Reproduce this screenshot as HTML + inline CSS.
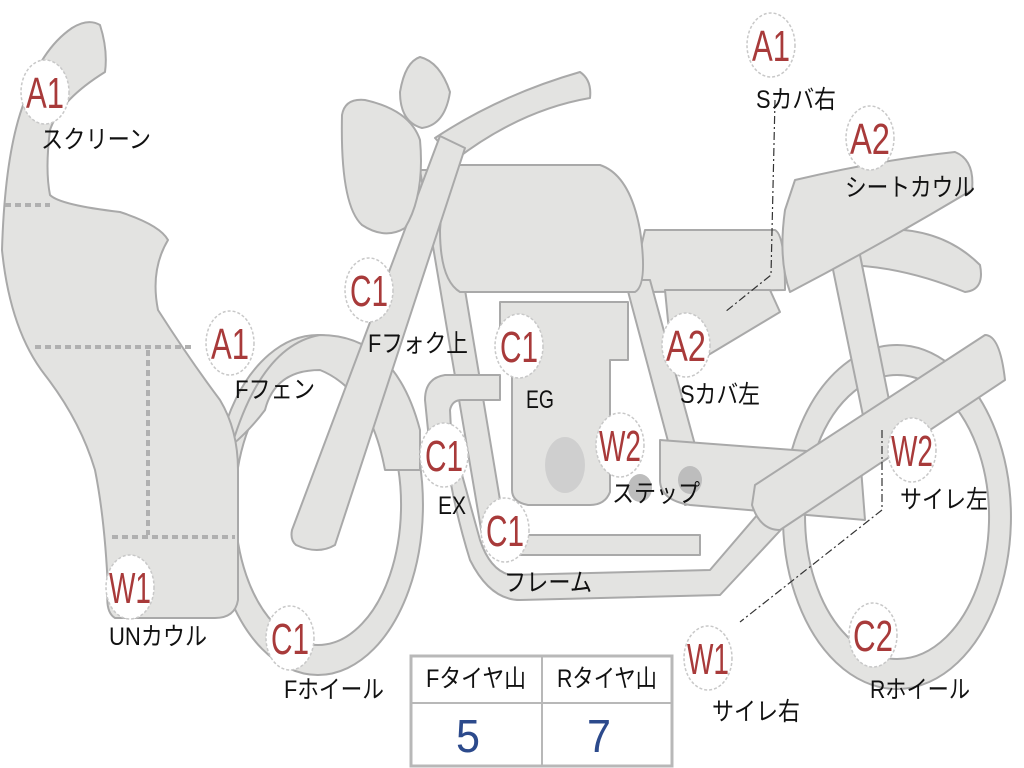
<!DOCTYPE html>
<html><head><meta charset="utf-8"><style>
html,body{margin:0;padding:0;background:#fff;}
svg{display:block;}
.s{fill:#e3e3e1;stroke:#a9a9a9;stroke-width:2;stroke-linejoin:round;}
.lb{fill:#fff;stroke:#c8c8c8;stroke-width:1.5;stroke-dasharray:3 2;}
.cd{font-family:"Liberation Sans",sans-serif;font-size:44px;fill:#a83a3a;text-anchor:middle;}
.tx{font-family:"Liberation Sans","Noto Sans CJK JP",sans-serif;font-size:25px;fill:#111;text-anchor:middle;}
</style></head><body>
<svg width="1024" height="768" viewBox="0 0 1024 768" xmlns="http://www.w3.org/2000/svg">
<!-- rear wheel -->
<path class="s" fill-rule="evenodd" d="M897 345 A114 172 0 1 1 896.9 345 Z M897 375 A92 142 0 1 0 897.1 375 Z"/>
<!-- front wheel -->
<path class="s" fill-rule="evenodd" d="M318 335 A105 170 0 1 1 317.9 335 Z M318 365 A83 140 0 1 0 318.1 365 Z"/>
<!-- front fender -->
<path class="s" d="M232 445 Q262 345 320 335 Q395 335 420 430 L420 470 L385 470 Q370 390 320 370 Q275 370 265 410 Q250 430 232 445 Z"/>
<!-- rear tail -->
<path class="s" d="M840 235 Q930 215 980 265 Q985 290 965 292 Q900 265 840 265 Z"/>
<!-- rear shock / frame -->
<path class="s" d="M830 255 L860 255 L895 430 L868 440 Z"/>
<!-- seat -->
<path class="s" d="M645 230 L775 230 Q785 235 785 290 L650 292 Q638 290 638 260 Z"/>
<!-- seat cowl -->
<path class="s" d="M795 180 Q880 160 955 152 Q975 160 972 190 Q880 245 790 292 Q778 260 785 210 Z"/>
<!-- side cover -->
<path class="s" d="M665 290 L770 290 L780 312 L700 360 L672 362 Z"/>
<!-- frame lower -->
<path class="s" d="M440 395 Q445 480 470 560 Q490 600 520 600 L720 595 L790 520 L770 500 L710 570 L510 575 Q490 570 480 540 Z"/>
<path class="s" d="M500 535 L700 535 L700 555 L500 555 Z"/>
<!-- frame down tubes -->
<path class="s" d="M420 170 L445 170 L505 530 L482 535 Z"/>
<path class="s" d="M625 280 L650 280 L710 500 L685 505 Z"/>
<!-- swingarm -->
<path class="s" d="M660 440 L860 455 L865 520 L690 505 Q660 500 660 480 Z"/>
<!-- engine -->
<path class="s" d="M500 302 L628 302 L628 360 L610 360 L610 492 Q605 505 590 505 L528 505 Q512 502 512 490 L512 360 L500 360 Z"/>
<ellipse cx="565" cy="465" rx="20" ry="28" fill="#cfcfcf"/>
<!-- exhaust -->
<path class="s" d="M500 375 L445 375 Q425 378 425 400 L430 450 L452 450 L450 410 Q452 400 462 400 L500 400 Z"/>
<!-- steps -->
<ellipse cx="640" cy="488" rx="12" ry="14" fill="#bdbdbd"/>
<ellipse cx="690" cy="480" rx="12" ry="14" fill="#bdbdbd"/>
<!-- muffler -->
<path class="s" d="M755 485 L985 335 Q1000 335 1005 380 L780 530 Q760 530 752 505 Z"/>
<!-- tank -->
<path class="s" d="M445 165 L600 165 Q630 175 640 230 Q648 285 635 292 L460 292 Q440 280 440 230 Z"/>
<!-- handlebar -->
<path class="s" d="M435 138 Q500 95 580 72 Q592 80 590 98 Q520 110 455 160 Z"/>
<!-- fork -->
<path class="s" d="M440 136 L465 148 L335 545 Q318 555 296 545 Q290 540 292 530 Z"/>
<!-- fork top / headlight -->
<path class="s" d="M400 92 Q405 62 420 57 Q440 62 450 92 Q445 125 422 128 Q400 122 400 92 Z"/>
<path class="s" d="M342 115 Q345 98 365 100 Q410 110 420 140 Q425 195 405 228 Q385 240 362 225 Q340 205 342 115 Z"/>
<!-- front fairing -->
<path class="s" d="M72 28 Q88 18 100 25 Q108 50 105 72 Q60 100 50 130 Q45 170 50 195 Q60 205 120 212 Q160 225 168 240 Q150 270 158 310 Q190 360 220 400 Q238 430 238 470 L238 600 Q235 618 215 618 L115 618 Q105 612 108 590 Q105 520 95 470 Q80 420 45 375 Q10 330 2 250 Q5 150 25 100 Q40 50 72 28 Z"/>
<g stroke="#b0b0b0" stroke-width="4" stroke-dasharray="6 4" fill="none">
<path d="M5 205 L50 205"/><path d="M35 347 L192 347"/><path d="M148 350 L148 535"/><path d="M112 537 L235 537"/>
</g>
<!-- leader lines -->
<g stroke="#333" stroke-width="1.2" fill="none" stroke-dasharray="8 3 2 3">
<path d="M775 100 L771 275 L725 312"/><path d="M882 430 L882 510 L740 622"/>
</g>
<!-- labels -->
<g>
<ellipse class="lb" cx="45" cy="92" rx="24" ry="32"/><text class="cd" x="45" y="108" textLength="38" lengthAdjust="spacingAndGlyphs">A1</text>
<ellipse class="lb" cx="230" cy="343" rx="24" ry="32"/><text class="cd" x="230" y="359" textLength="38" lengthAdjust="spacingAndGlyphs">A1</text>
<ellipse class="lb" cx="369" cy="290" rx="24" ry="32"/><text class="cd" x="369" y="306" textLength="38" lengthAdjust="spacingAndGlyphs">C1</text>
<ellipse class="lb" cx="519" cy="346" rx="24" ry="32"/><text class="cd" x="519" y="362" textLength="38" lengthAdjust="spacingAndGlyphs">C1</text>
<ellipse class="lb" cx="686" cy="345" rx="24" ry="32"/><text class="cd" x="686" y="361" textLength="40" lengthAdjust="spacingAndGlyphs">A2</text>
<ellipse class="lb" cx="444" cy="455" rx="24" ry="32"/><text class="cd" x="444" y="471" textLength="38" lengthAdjust="spacingAndGlyphs">C1</text>
<ellipse class="lb" cx="620" cy="445" rx="24" ry="32"/><text class="cd" x="620" y="461" textLength="42" lengthAdjust="spacingAndGlyphs">W2</text>
<ellipse class="lb" cx="505" cy="530" rx="24" ry="32"/><text class="cd" x="505" y="546" textLength="38" lengthAdjust="spacingAndGlyphs">C1</text>
<ellipse class="lb" cx="130" cy="587" rx="24" ry="32"/><text class="cd" x="130" y="603" textLength="42" lengthAdjust="spacingAndGlyphs">W1</text>
<ellipse class="lb" cx="290" cy="638" rx="24" ry="32"/><text class="cd" x="290" y="654" textLength="38" lengthAdjust="spacingAndGlyphs">C1</text>
<ellipse class="lb" cx="771" cy="45" rx="24" ry="32"/><text class="cd" x="771" y="61" textLength="38" lengthAdjust="spacingAndGlyphs">A1</text>
<ellipse class="lb" cx="870" cy="138" rx="24" ry="32"/><text class="cd" x="870" y="154" textLength="40" lengthAdjust="spacingAndGlyphs">A2</text>
<ellipse class="lb" cx="912" cy="450" rx="24" ry="32"/><text class="cd" x="912" y="466" textLength="42" lengthAdjust="spacingAndGlyphs">W2</text>
<ellipse class="lb" cx="708" cy="658" rx="24" ry="32"/><text class="cd" x="708" y="674" textLength="42" lengthAdjust="spacingAndGlyphs">W1</text>
<ellipse class="lb" cx="873" cy="635" rx="24" ry="32"/><text class="cd" x="873" y="651" textLength="40" lengthAdjust="spacingAndGlyphs">C2</text>
</g>
<g>
<text class="tx" x="96" y="148" textLength="110" lengthAdjust="spacingAndGlyphs">スクリーン</text>
<text class="tx" x="275" y="398" textLength="80" lengthAdjust="spacingAndGlyphs">Fフェン</text>
<text class="tx" x="418" y="352" textLength="100" lengthAdjust="spacingAndGlyphs">Fフォク上</text>
<text class="tx" x="540" y="408" textLength="28" lengthAdjust="spacingAndGlyphs">EG</text>
<text class="tx" x="720" y="403" textLength="80" lengthAdjust="spacingAndGlyphs">Sカバ左</text>
<text class="tx" x="452" y="514" textLength="28" lengthAdjust="spacingAndGlyphs">EX</text>
<text class="tx" x="656" y="502" textLength="88" lengthAdjust="spacingAndGlyphs">ステップ</text>
<text class="tx" x="548" y="591" textLength="88" lengthAdjust="spacingAndGlyphs">フレーム</text>
<text class="tx" x="158" y="645" textLength="98" lengthAdjust="spacingAndGlyphs">UNカウル</text>
<text class="tx" x="334" y="698" textLength="100" lengthAdjust="spacingAndGlyphs">Fホイール</text>
<text class="tx" x="796" y="108" textLength="80" lengthAdjust="spacingAndGlyphs">Sカバ右</text>
<text class="tx" x="910" y="196" textLength="130" lengthAdjust="spacingAndGlyphs">シートカウル</text>
<text class="tx" x="944" y="508" textLength="88" lengthAdjust="spacingAndGlyphs">サイレ左</text>
<text class="tx" x="756" y="720" textLength="88" lengthAdjust="spacingAndGlyphs">サイレ右</text>
<text class="tx" x="920" y="698" textLength="100" lengthAdjust="spacingAndGlyphs">Rホイール</text>
</g>
<!-- table -->
<rect x="411" y="656" width="261" height="110" fill="#fff" stroke="#b8b8b8" stroke-width="3"/>
<line x1="411" y1="703" x2="672" y2="703" stroke="#b8b8b8" stroke-width="2"/>
<line x1="542" y1="656" x2="542" y2="766" stroke="#b8b8b8" stroke-width="2"/>
<text class="tx" x="476" y="687" textLength="100" lengthAdjust="spacingAndGlyphs">Fタイヤ山</text>
<text class="tx" x="607" y="687" textLength="100" lengthAdjust="spacingAndGlyphs">Rタイヤ山</text>
<text x="468" y="752" font-family="Liberation Sans,sans-serif" font-size="46" fill="#2c4a8c" text-anchor="middle" textLength="24" lengthAdjust="spacingAndGlyphs">5</text>
<text x="599" y="752" font-family="Liberation Sans,sans-serif" font-size="46" fill="#2c4a8c" text-anchor="middle" textLength="24" lengthAdjust="spacingAndGlyphs">7</text>
</svg>
</body></html>
